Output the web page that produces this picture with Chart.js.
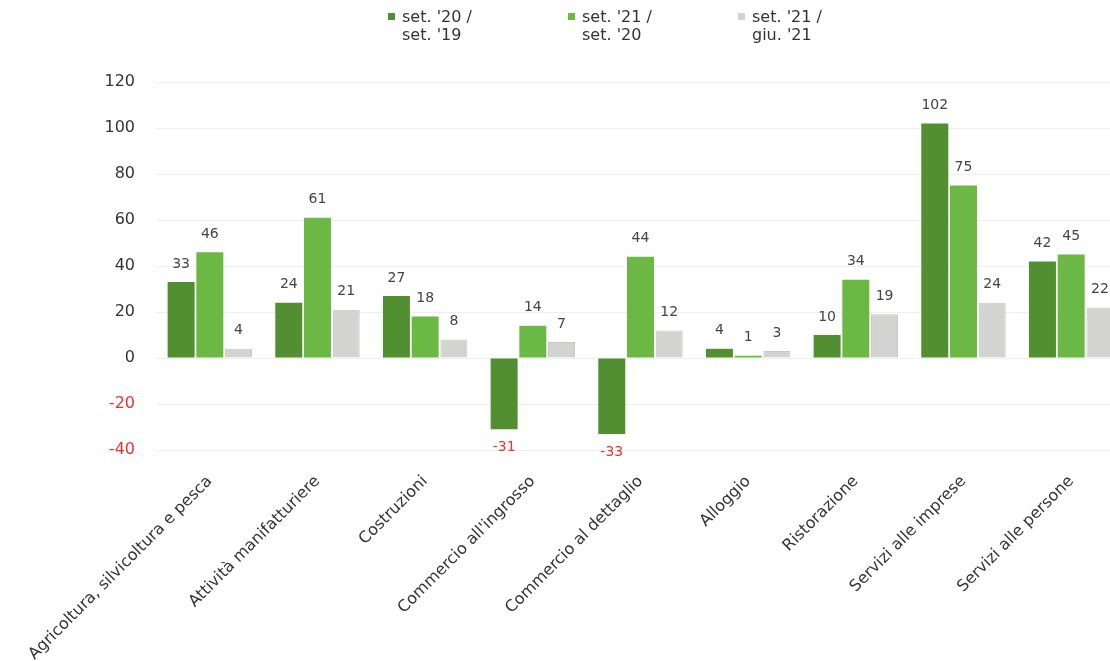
<!DOCTYPE html>
<html lang="it">
<head>
    <meta charset="UTF-8">
    <title>Variazioni per settore</title>
    <script src="https://cdn.jsdelivr.net/npm/chart.js"></script>
    <style>
        html, body {
            margin: 0;
            padding: 0;
            background: #fff;
            overflow: hidden;
            font-family: "DejaVu Sans", sans-serif;
        }
        #wrap {
            position: relative;
            width: 1110px;
            height: 661px;
            overflow: hidden;
        }
        #chart {
            position: absolute;
            left: 0;
            top: 0;
        }
        .leg {
            position: absolute;
            top: 8px;
            font-size: 16px;
            line-height: 18px;
            color: #333;
        }
        .leg span.box {
            display: inline-block;
            width: 7px;
            height: 7px;
            margin-right: 7px;
            vertical-align: 2px;
        }
        .leg .l2 { padding-left: 14px; }
    </style>
</head>
<body>
<div id="wrap">
    <canvas id="chart"></canvas>
    <div id="legend"></div>
</div>

<script>
    // Dati del grafico
    const categorie = [
        'Agricoltura, silvicoltura e pesca',
        'Attività manifatturiere',
        'Costruzioni',
        "Commercio all'ingrosso",
        'Commercio al dettaglio',
        'Alloggio',
        'Ristorazione',
        'Servizi alle imprese',
        'Servizi alle persone'
    ];
    const set20su19 = [33, 24, 27, -31, -33, 4, 10, 102, 42];
    const set21su20 = [46, 61, 18, 14, 44, 1, 34, 75, 45];
    const set21giu21 = [4, 21, 8, 7, 12, 3, 19, 24, 22];
    const etichetteSerie = [['set. \'20 /', 'set. \'19'], ['set. \'21 /', 'set. \'20'], ['set. \'21 /', 'giu. \'21']];
    const coloriSerie = ['#528f31', '#6cb845', '#d3d3d1'];
    const yTicks = [-40, -20, 0, 20, 40, 60, 80, 100, 120];

    const ROSSO = '#e8322f';
    const FONT = '"DejaVu Sans", sans-serif';

    // Legenda in HTML (etichette su due righe)
    const legendPos = [388, 568, 738];
    const legendDiv = document.getElementById('legend');
    etichetteSerie.forEach((lab, i) => {
        const d = document.createElement('div');
        d.className = 'leg';
        d.style.left = legendPos[i] + 'px';
        d.innerHTML = '<span class="box" style="background:' + coloriSerie[i] + '"></span>' + lab[0] +
            '<br><span class="l2">' + lab[1] + '</span>';
        legendDiv.appendChild(d);
    });

    // Plugin per le etichette dei valori sopra/sotto le barre
    const valoriPlugin = {
        id: 'valori',
        afterDatasetsDraw(chart) {
            const ctx = chart.ctx;
            ctx.save();
            ctx.font = '14px ' + FONT;
            ctx.textAlign = 'center';
            chart.data.datasets.forEach((ds, i) => {
                const meta = chart.getDatasetMeta(i);
                meta.data.forEach((bar, j) => {
                    const v = ds.data[j];
                    if (v < 0) {
                        ctx.fillStyle = ROSSO;
                        ctx.textBaseline = 'top';
                        ctx.fillText(v, bar.x, bar.y + 11);
                    } else {
                        ctx.fillStyle = '#444';
                        ctx.textBaseline = 'bottom';
                        ctx.fillText(v, bar.x, bar.y - 11);
                    }
                });
            });
            ctx.restore();
        }
    };

    const canvas = document.getElementById('chart');
    canvas.style.width = '1125px';
    canvas.style.height = '661px';

    new Chart(canvas, {
        type: 'bar',
        data: {
            labels: categorie,
            datasets: [set20su19, set21su20, set21giu21].map((serie, i) => ({
                label: etichetteSerie[i].join(' '),
                data: serie,
                backgroundColor: coloriSerie[i],
                borderColor: i === 2 ? '#c6c6c4' : coloriSerie[i],
                borderWidth: i === 2 ? 1 : 0,
                categoryPercentage: 0.8,
                barPercentage: 0.94
            }))
        },
        options: {
            responsive: false,
            animation: false,
            layout: { padding: { top: 82, right: 0 } },
            plugins: {
                legend: { display: false },
                tooltip: { enabled: false }
            },
            scales: {
                x: {
                    grid: { display: false },
                    border: { display: false },
                    ticks: {
                        color: '#333',
                        font: { size: 16, family: FONT },
                        minRotation: 45,
                        maxRotation: 45,
                        autoSkip: false,
                        padding: 14
                    },
                    afterFit(scale) { scale.height = 211; }
                },
                y: {
                    min: -40,
                    max: 120,
                    afterBuildTicks(scale) {
                        scale.ticks = yTicks.map(v => ({ value: v }));
                    },
                    grid: {
                        color: '#eeeeee',
                        drawTicks: false
                    },
                    border: { display: false },
                    ticks: {
                        padding: 21,
                        font: { size: 16, family: FONT },
                        color: (c) => c.tick.value < 0 ? ROSSO : '#333'
                    },
                    afterFit(scale) { scale.width = 156; }
                }
            }
        },
        plugins: [valoriPlugin]
    });
</script>
</body>
</html>
